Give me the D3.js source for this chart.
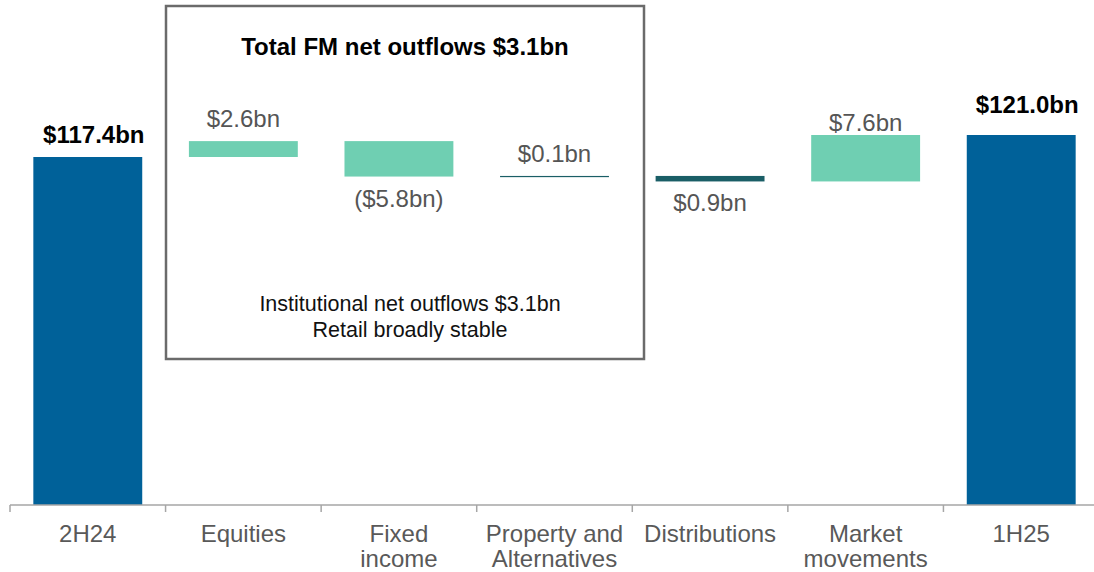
<!DOCTYPE html>
<html>
<head>
<meta charset="utf-8">
<script src="https://d3js.org/d3.v7.min.js"></script>
<style>
  body { margin: 0; background: #fff; }
  text { font-family: "Liberation Sans", Arial, sans-serif; }
</style>
</head>
<body>
<script>
// waterfall data
var categories = [["2H24"], ["Equities"], ["Fixed", "income"], ["Property and", "Alternatives"],
                  ["Distributions"], ["Market", "movements"], ["1H25"]];
var kinds  = ["total", "delta", "delta", "delta", "delta", "delta", "total"];
var values = [117.4, 2.6, -5.8, 0.1, -0.9, 7.6, 121.0];
var labels = ["$117.4bn", "$2.6bn", "($5.8bn)", "$0.1bn", "$0.9bn", "$7.6bn", "$121.0bn"];
var colors = ["#006199", "#6FCFB2", "#6FCFB2", "#1A5E66", "#1A5E66", "#6FCFB2", "#006199"];

var W = 1094, H = 572;
var svg = d3.select("body").append("svg").attr("width", W).attr("height", H);

var x = d3.scaleBand().domain(d3.range(values.length)).range([10, 1099]).paddingInner(0).paddingOuter(0);
var y = d3.scaleLinear().domain([60.45, 121.0]).range([505, 135]);

// running totals
var rows = [], run = 0;
values.forEach(function (v, i) {
  var start, end;
  if (kinds[i] == "total") { start = y.domain()[0]; end = v; run = v; }
  else { start = run; end = run + v; run = end; }
  rows.push({ i: i, lo: Math.min(start, end), hi: Math.max(start, end), v: v });
});

// callout box
svg.append("rect")
  .attr("x", 166).attr("y", 6).attr("width", 478).attr("height", 353)
  .attr("fill", "none").attr("stroke", "#6b6b6b").attr("stroke-width", 2.5);
svg.append("text").attr("x", 405).attr("y", 55).attr("text-anchor", "middle")
  .style("font-size", "24px").style("font-weight", "bold").attr("fill", "#000")
  .text("Total FM net outflows $3.1bn");
svg.append("text").attr("x", 410).attr("y", 311).attr("text-anchor", "middle")
  .style("font-size", "21.5px").attr("fill", "#111")
  .text("Institutional net outflows $3.1bn");
svg.append("text").attr("x", 410).attr("y", 337).attr("text-anchor", "middle")
  .style("font-size", "21.5px").attr("fill", "#111")
  .text("Retail broadly stable");

// bars
var bw = x.bandwidth() * 0.7;
svg.selectAll("rect.bar").data(rows).enter().append("rect")
  .attr("class", "bar")
  .attr("x", function (d) { return x(d.i) + (x.bandwidth() - bw) / 2; })
  .attr("width", bw)
  .attr("y", function (d) { return y(d.hi); })
  .attr("height", function (d) { return Math.max(1.2, y(d.lo) - y(d.hi)); })
  .attr("fill", function (d) { return colors[d.i]; });

// value labels (a couple nudged like the original slide)
var nudge = { 5: 10, 6: -8 };
svg.selectAll("text.val").data(rows).enter().append("text")
  .attr("class", "val")
  .attr("x", function (d) { return x(d.i) + x.bandwidth() / 2 + (kinds[d.i] == "total" ? 6 : 0); })
  .attr("y", function (d) {
    if (kinds[d.i] == "delta" && d.v < 0) return y(d.lo) + 30;
    return y(d.hi) - 14 + (nudge[d.i] || 0);
  })
  .attr("text-anchor", "middle")
  .style("font-size", "24px")
  .style("font-weight", function (d) { return kinds[d.i] == "total" ? "bold" : "normal"; })
  .attr("fill", function (d) { return kinds[d.i] == "total" ? "#000" : "#555"; })
  .text(function (d) { return labels[d.i]; });

// axis
var axisY = 505;
svg.append("line").attr("x1", 10).attr("x2", 1099).attr("y1", axisY).attr("y2", axisY)
  .attr("stroke", "#a6a6a6").attr("stroke-width", 1.5);
d3.range(values.length).forEach(function (k) {
  svg.append("line").attr("x1", x(k)).attr("x2", x(k)).attr("y1", axisY).attr("y2", axisY + 7)
    .attr("stroke", "#a6a6a6").attr("stroke-width", 1.5);
});

svg.selectAll("text.cat").data(categories).enter().append("text")
  .attr("class", "cat")
  .attr("x", function (d, i) { return x(i) + x.bandwidth() / 2; })
  .attr("y", 542)
  .attr("text-anchor", "middle")
  .style("font-size", "24px")
  .attr("fill", "#595959")
  .each(function (d) {
    var t = d3.select(this);
    d.forEach(function (line, j) {
      t.append("tspan").attr("x", t.attr("x")).attr("dy", j == 0 ? 0 : 25).text(line);
    });
  });
</script>
</body>
</html>
